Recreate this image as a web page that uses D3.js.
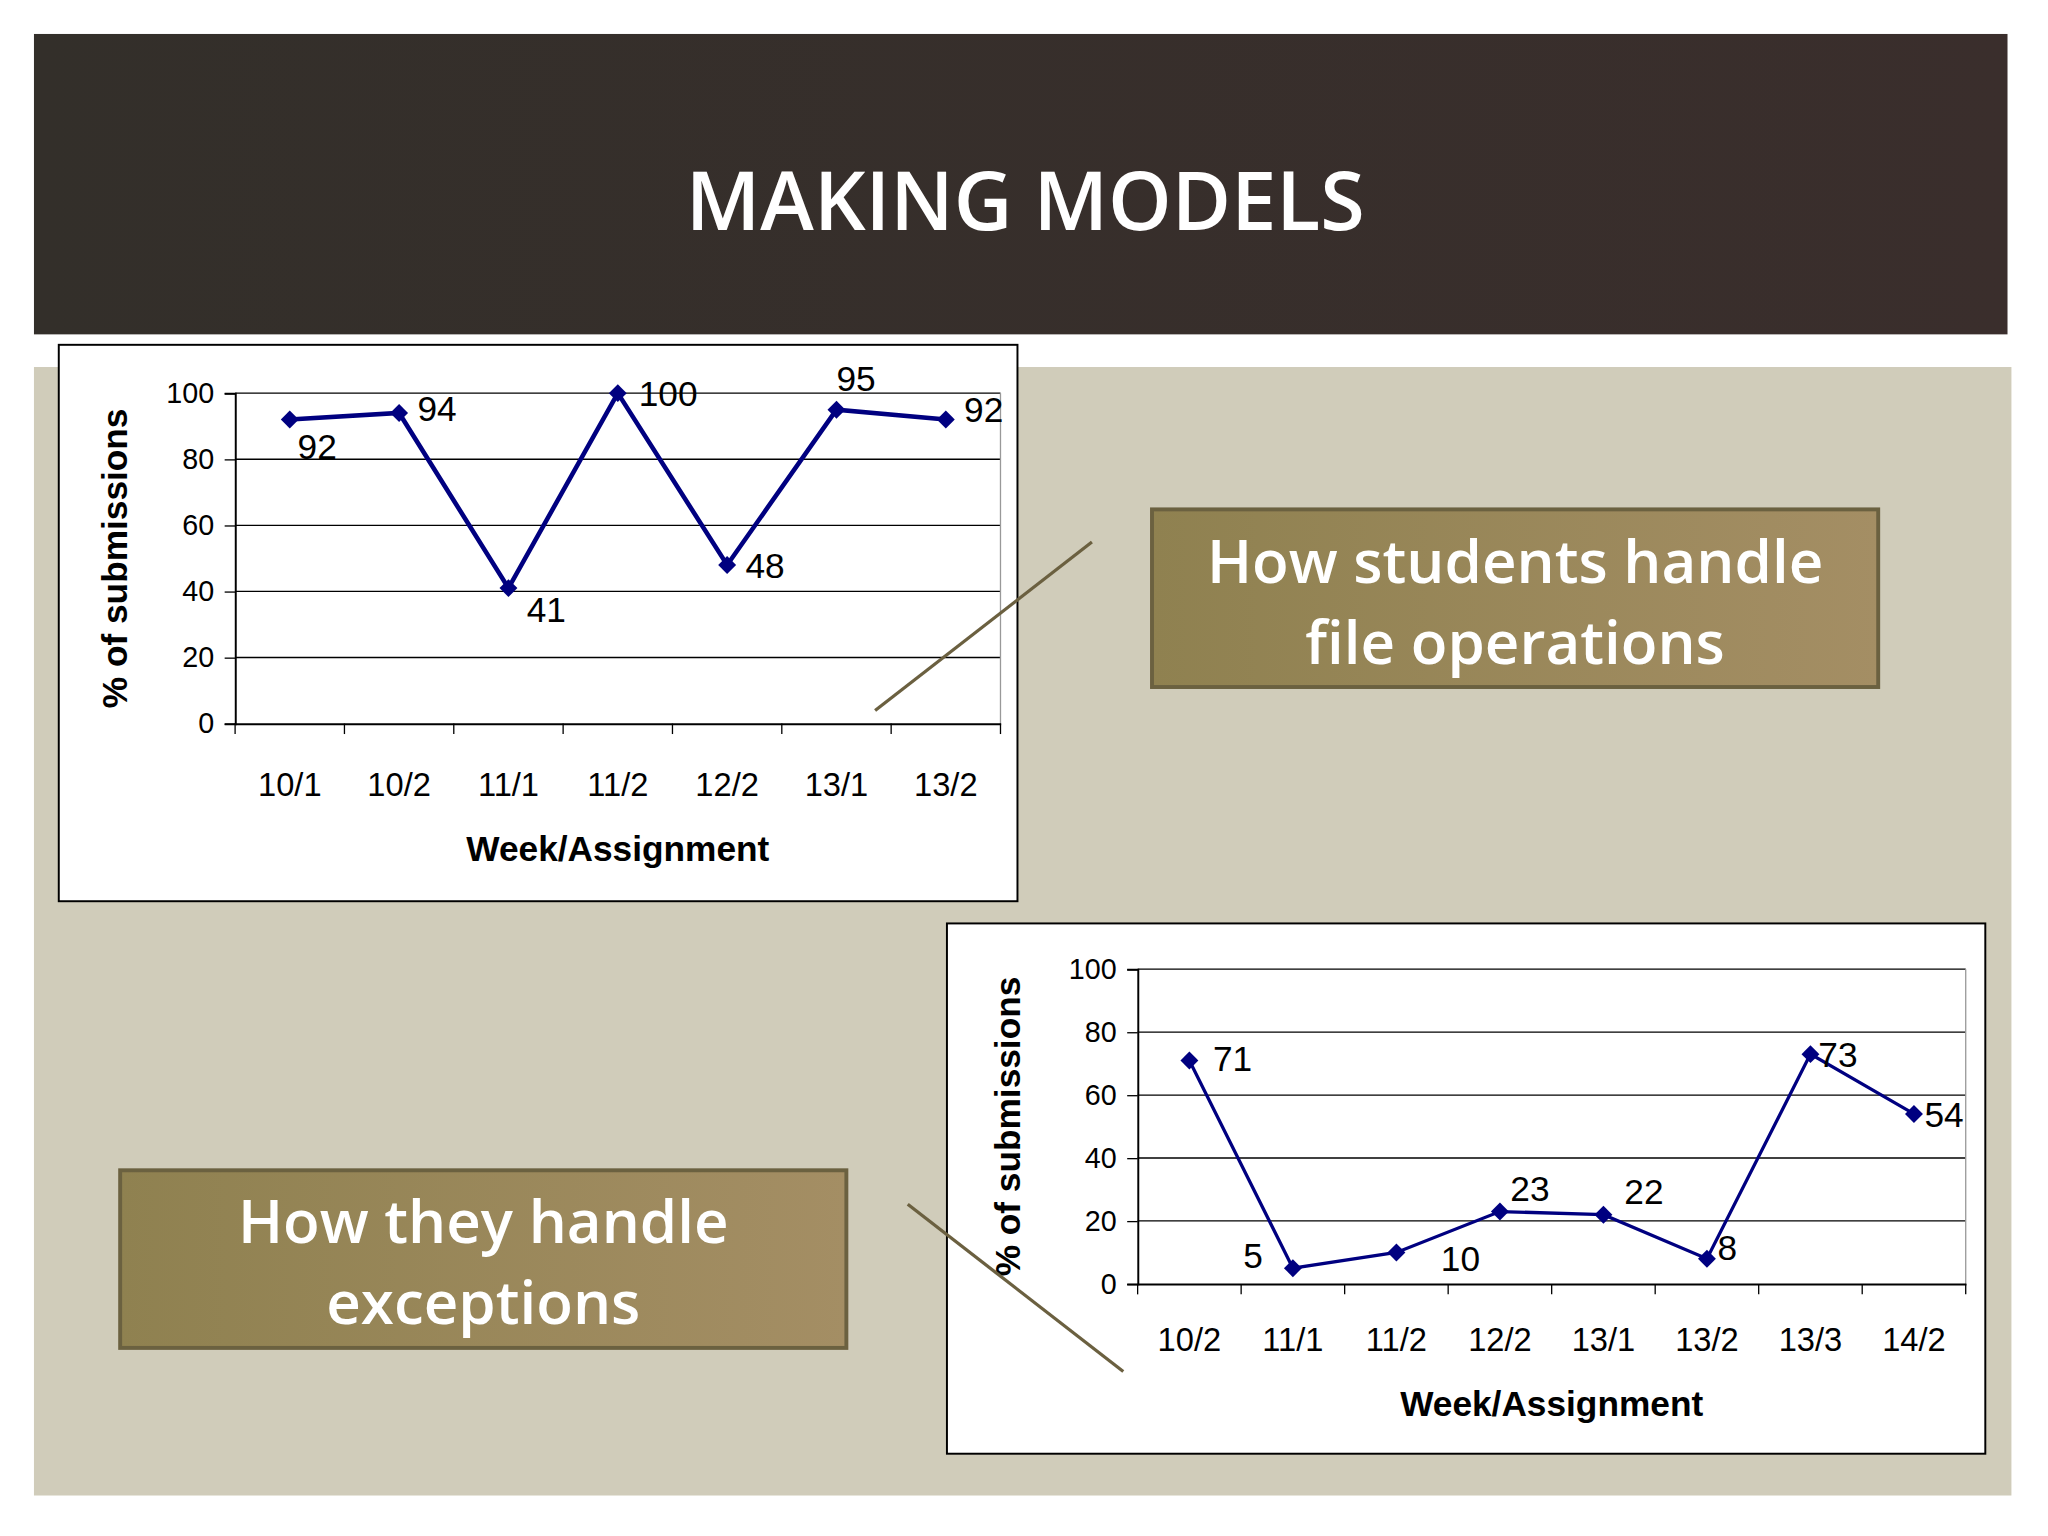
<!DOCTYPE html>
<html lang="en">
<head>
<meta charset="utf-8">
<title>Making Models</title>
<script src="https://d3js.org/d3.v7.min.js"></script>
<style>
  body { margin: 0; background: #fff; }
  svg { display: block; }
</style>
</head>
<body>
<svg id="slide" width="2048" height="1536" viewBox="0 0 1568 1176"></svg>
<script>
// chart 1: file operations
const weeks1 = ["10/1", "10/2", "11/1", "11/2", "12/2", "13/1", "13/2"];
const values1 = [92, 94, 41, 100, 48, 95, 92];
// chart 2: exceptions
const weeks2 = ["10/2", "11/1", "11/2", "12/2", "13/1", "13/2", "13/3", "14/2"];
const values2 = [71, 5, 10, 23, 22, 8, 73, 54];
const yTicks = [0, 20, 40, 60, 80, 100];

// label offsets (dx, dy) relative to the point
const labelPos1 = [[6, 30], [14, 6], [14, 26], [16, 10], [14, 10], [0, -14], [14, 2]];
const labelPos2 = [[18, 8], [-38, 0], [34, 14], [8, -8], [16, -8], [8, 1], [6, 10], [8, 10]];

const svg = d3.select("#slide");
const defs = svg.append("defs");
const hg = defs.append("linearGradient").attr("id", "hdr");
hg.append("stop").attr("offset", "0").attr("stop-color", "#332f2a");
hg.append("stop").attr("offset", "1").attr("stop-color", "#3a2e2c");
const bg = defs.append("linearGradient").attr("id", "box").attr("x1", 0).attr("x2", 1);
bg.append("stop").attr("offset", "0").attr("stop-color", "#8f8150");
bg.append("stop").attr("offset", "1").attr("stop-color", "#a48e64");

svg.append("rect").attr("x", 26).attr("y", 26).attr("width", 1511).attr("height", 230).attr("fill", "url(#hdr)");
svg.append("text").attr("x", 785).attr("y", 176).attr("text-anchor", "middle")
  .attr("fill", "#fff").attr("font-family", "Open Sans, sans-serif").attr("font-weight", 600)
  .attr("font-size", 62).text("MAKING MODELS");
svg.append("rect").attr("x", 26).attr("y", 281).attr("width", 1514).attr("height", 864).attr("fill", "#d0ccba");

function chart(cfg) {
  const g = svg.append("g");
  g.append("rect").attr("x", cfg.box[0]).attr("y", cfg.box[1]).attr("width", cfg.box[2]).attr("height", cfg.box[3])
    .attr("fill", "#fff").attr("stroke", "#000").attr("stroke-width", 1.5);
  const x = d3.scaleBand().domain(cfg.cats).range([cfg.x0, cfg.x1]);
  const y = d3.scaleLinear().domain([0, 100]).range([cfg.y1, cfg.y0]);
  const font = "Liberation Sans, Arial, sans-serif";

  g.selectAll(".grid").data(yTicks.slice(1)).join("line")
    .attr("x1", cfg.x0).attr("x2", cfg.x1).attr("y1", d => y(d)).attr("y2", d => y(d))
    .attr("stroke", "#000").attr("stroke-width", 1);
  g.append("line").attr("x1", cfg.x1).attr("x2", cfg.x1).attr("y1", cfg.y0).attr("y2", cfg.y1)
    .attr("stroke", "#999");

  const ya = g.append("g").attr("transform", `translate(${cfg.x0},0)`)
    .call(d3.axisLeft(y).tickValues(yTicks).tickSize(8).tickPadding(8));
  const xa = g.append("g").attr("transform", `translate(0,${cfg.y1})`)
    .call(d3.axisBottom(x).tickSize(0).tickPadding(cfg.xpad));
  // tick marks at band edges
  g.selectAll(".xt").data(cfg.cats.map((c, i) => i).concat([cfg.cats.length])).join("line")
    .attr("x1", i => cfg.x0 + i * x.step()).attr("x2", i => cfg.x0 + i * x.step())
    .attr("y1", cfg.y1).attr("y2", cfg.y1 + 8).attr("stroke", "#000");
  [ya, xa].forEach(a => {
    a.selectAll("text").attr("font-family", font).attr("font-size", 25).attr("fill", "#000");
    a.selectAll("path").attr("stroke", "#000").attr("stroke-width", 1.5);
    a.selectAll("line").attr("stroke", "#000");
  });
  ya.selectAll("text").attr("font-size", 22);

  g.append("text").attr("x", (cfg.x0 + cfg.x1) / 2).attr("y", cfg.xTitleY).attr("text-anchor", "middle")
    .attr("font-family", font).attr("font-weight", "bold").attr("font-size", 27).text("Week/Assignment");
  g.append("text").attr("transform", `translate(${cfg.yTitleX},${(cfg.y0 + cfg.y1) / 2}) rotate(-90)`)
    .attr("text-anchor", "middle").attr("font-family", font).attr("font-weight", "bold")
    .attr("font-size", 27).text("% of submissions");

  const pts = cfg.vals.map((v, i) => [x(cfg.cats[i]) + x.bandwidth() / 2, y(v)]);
  g.append("path").attr("d", d3.line()(pts)).attr("fill", "none").attr("stroke", "#000080").attr("stroke-width", cfg.lw);
  g.selectAll(".m").data(pts).join("path")
    .attr("transform", d => `translate(${d[0]},${d[1]})`)
    .attr("d", d3.symbol(d3.symbolDiamond2, 120)()).attr("fill", "#000080");
  g.selectAll(".lbl").data(cfg.vals).join("text")
    .attr("x", (d, i) => pts[i][0] + cfg.pos[i][0]).attr("y", (d, i) => pts[i][1] + cfg.pos[i][1])
    .attr("font-family", font).attr("font-size", 27).text(d => d);
}

chart({ box: [45, 264, 734, 426], cats: weeks1, vals: values1, x0: 180, x1: 766, y0: 301, y1: 554,
  xpad: 38, xTitleY: 659, yTitleX: 97, lw: 3.5, pos: labelPos1 });
chart({ box: [725, 707, 795, 406], cats: weeks2, vals: values2, x0: 871, x1: 1505, y0: 742, y1: 983,
  xpad: 34, xTitleY: 1084, yTitleX: 781, lw: 2.5, pos: labelPos2 });

function callout(x, yy, lines, ty, line) {
  svg.append("rect").attr("x", x).attr("y", yy).attr("width", 556).attr("height", 136)
    .attr("fill", "url(#box)").attr("stroke", "#6b6140").attr("stroke-width", 3);
  lines.forEach((t, i) => svg.append("text").attr("x", x + 278).attr("y", ty + i * 62)
    .attr("text-anchor", "middle").attr("fill", "#fff").attr("font-family", "Open Sans, sans-serif")
    .attr("font-weight", 600).attr("font-size", 46).text(t));
  svg.append("line").attr("x1", line[0]).attr("y1", line[1]).attr("x2", line[2]).attr("y2", line[3])
    .attr("stroke", "#6b6040").attr("stroke-width", 2.5);
}
callout(882, 390, ["How students handle", "file operations"], 446, [836, 415, 670, 544]);
callout(92, 896, ["How they handle", "exceptions"], 952, [695, 922, 860, 1050]);
</script>
</body>
</html>
